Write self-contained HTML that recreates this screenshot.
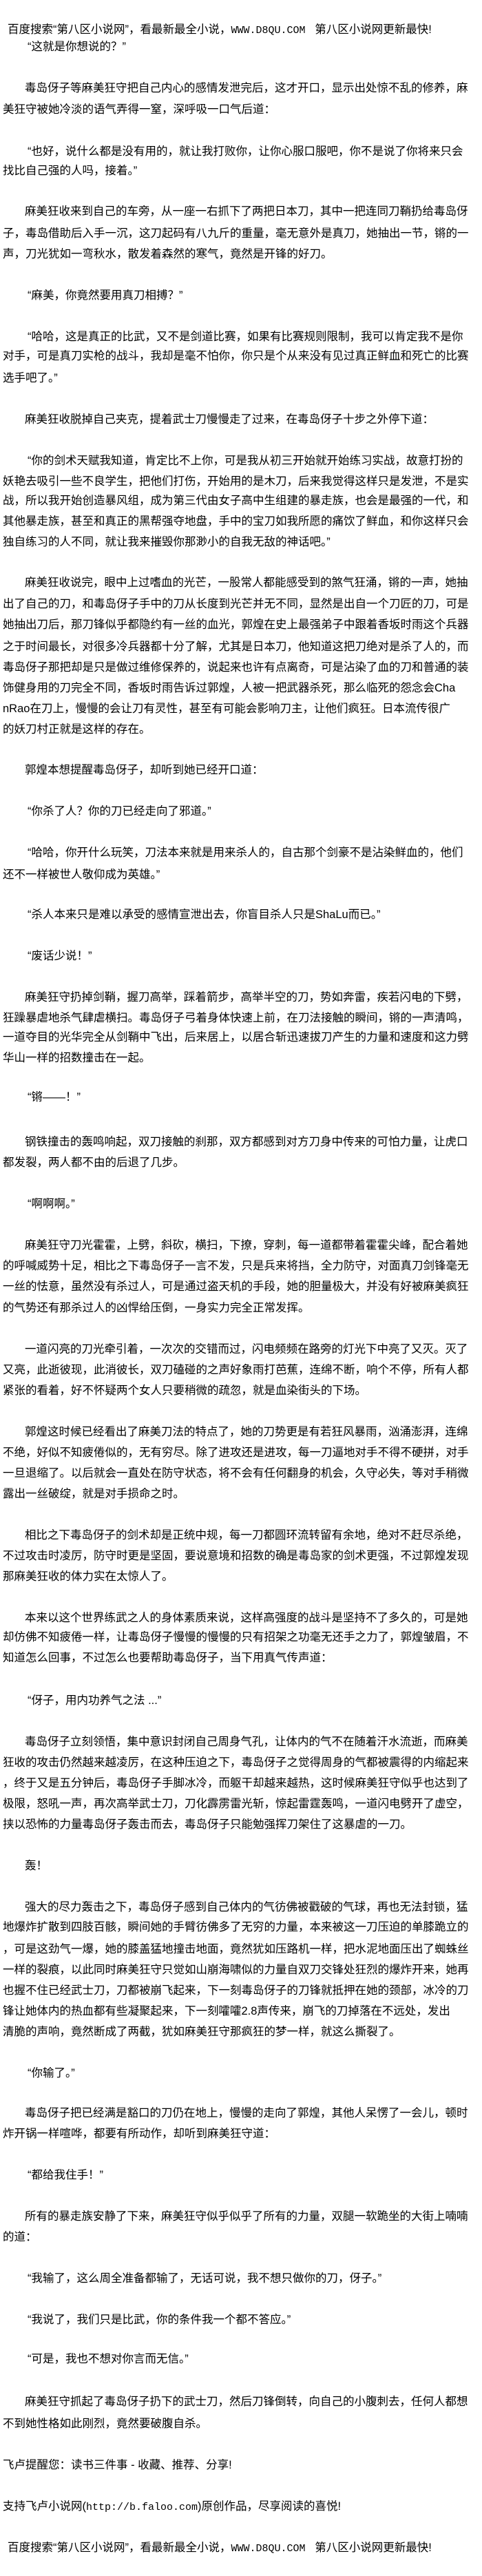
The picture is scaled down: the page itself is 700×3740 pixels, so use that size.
<!DOCTYPE html>
<html><head><meta charset="utf-8">
<style>
html,body{margin:0;padding:0;background:#fff;}
body{width:700px;height:3740px;position:relative;overflow:hidden;font-family:"Liberation Sans","Noto Sans CJK SC","WenQuanYi Zen Hei",sans-serif;color:#000;}
.l{position:absolute;left:4px;height:30px;line-height:30px;font-size:16.5px;white-space:nowrap;}
.i{left:36px;}
.q{left:40px;}
.h{left:11px;}
.m{font-family:"Liberation Mono",monospace;font-size:15px;}
</style></head><body>
<div class="l h" style="top:28px">百度搜索“第八区小说网”，看最新最全小说，<span class="m">WWW.D8QU.COM</span>&nbsp;&nbsp; 第八区小说网更新最快!</div>
<div class="l q" style="top:53px">“这就是你想说的？”</div>

<div class="l i" style="top:113px">毒岛伢子等麻美狂守把自己内心的感情发泄完后，这才开口，显示出处惊不乱的修养，麻</div>
<div class="l" style="top:144px">美狂守被她冷淡的语气弄得一窒，深呼吸一口气后道：</div>

<div class="l q" style="top:205px">“也好，说什么都是没有用的，就让我打败你，让你心服口服吧，你不是说了你将来只会</div>
<div class="l" style="top:233px">找比自己强的人吗，接着。”</div>

<div class="l i" style="top:292px">麻美狂收来到自己的车旁，从一座一右抓下了两把日本刀，其中一把连同刀鞘扔给毒岛伢</div>
<div class="l" style="top:324px">子，毒岛借助后入手一沉，这刀起码有八九斤的重量，毫无意外是真刀，她抽出一节，锵的一</div>
<div class="l" style="top:354px">声，刀光犹如一弯秋水，散发着森然的寒气，竟然是开锋的好刀。</div>

<div class="l q" style="top:414px">“麻美，你竟然要用真刀相搏？”</div>

<div class="l q" style="top:474px">“哈哈，这是真正的比武，又不是剑道比赛，如果有比赛规则限制，我可以肯定我不是你</div>
<div class="l" style="top:502px">对手，可是真刀实枪的战斗，我却是毫不怕你，你只是个从来没有见过真正鲜血和死亡的比赛</div>
<div class="l" style="top:534px">选手吧了。”</div>

<div class="l i" style="top:594px">麻美狂收脱掉自己夹克，提着武士刀慢慢走了过来，在毒岛伢子十步之外停下道：</div>

<div class="l q" style="top:654px">“你的剑术天赋我知道，肯定比不上你，可是我从初三开始就开始练习实战，故意打扮的</div>
<div class="l" style="top:684px">妖艳去吸引一些不良学生，把他们打伤，开始用的是木刀，后来我觉得这样只是发泄，不是实</div>
<div class="l" style="top:712px">战，所以我开始创造暴风组，成为第三代由女子高中生组建的暴走族，也会是最强的一代，和</div>
<div class="l" style="top:742px">其他暴走族，甚至和真正的黑帮强夺地盘，手中的宝刀如我所愿的痛饮了鲜血，和你这样只会</div>
<div class="l" style="top:772px">独自练习的人不同，就让我来摧毁你那渺小的自我无敌的神话吧。”</div>

<div class="l i" style="top:831px">麻美狂收说完，眼中上过嗜血的光芒，一股常人都能感受到的煞气狂涌，锵的一声，她抽</div>
<div class="l" style="top:862px">出了自己的刀，和毒岛伢子手中的刀从长度到光芒并无不同，显然是出自一个刀匠的刀，可是</div>
<div class="l" style="top:892px">她抽出刀后，那刀锋似乎都隐约有一丝的血光，郭煌在史上最强弟子中跟着香坂时雨这个兵器</div>
<div class="l" style="top:924px">之于时间最长，对很多冷兵器都十分了解，尤其是日本刀，他知道这把刀绝对是杀了人的，而</div>
<div class="l" style="top:954px">毒岛伢子那把却是只是做过维修保养的，说起来也许有点离奇，可是沾染了血的刀和普通的装</div>
<div class="l" style="top:984px">饰健身用的刀完全不同，香坂时雨告诉过郭煌，人被一把武器杀死，那么临死的怨念会Cha</div>
<div class="l" style="top:1014px">nRao在刀上，慢慢的会让刀有灵性，甚至有可能会影响刀主，让他们疯狂。日本流传很广</div>
<div class="l" style="top:1044px">的妖刀村正就是这样的存在。</div>

<div class="l i" style="top:1103px">郭煌本想提醒毒岛伢子，却听到她已经开口道：</div>

<div class="l q" style="top:1163px">“你杀了人？你的刀已经走向了邪道。”</div>

<div class="l q" style="top:1223px">“哈哈，你开什么玩笑，刀法本来就是用来杀人的，自古那个剑豪不是沾染鲜血的，他们</div>
<div class="l" style="top:1255px">还不一样被世人敬仰成为英雄。”</div>

<div class="l q" style="top:1313px">“杀人本来只是难以承受的感情宣泄出去，你盲目杀人只是ShaLu而已。”</div>

<div class="l q" style="top:1373px">“废话少说！”</div>

<div class="l i" style="top:1433px">麻美狂守扔掉剑鞘，握刀高举，踩着箭步，高举半空的刀，势如奔雷，疾若闪电的下劈，</div>
<div class="l" style="top:1463px">狂躁暴虐地杀气肆虐横扫。毒岛伢子弓着身体快速上前，在刀法接触的瞬间，锵的一声清鸣，</div>
<div class="l" style="top:1491px">一道夺目的光华完全从剑鞘中飞出，后来居上，以居合斩迅速拔刀产生的力量和速度和这力劈</div>
<div class="l" style="top:1521px">华山一样的招数撞击在一起。</div>

<div class="l q" style="top:1578px">“锵——！”</div>

<div class="l i" style="top:1643px">钢铁撞击的轰鸣响起，双刀接触的刹那，双方都感到对方刀身中传来的可怕力量，让虎口</div>
<div class="l" style="top:1673px">都发裂，两人都不由的后退了几步。</div>

<div class="l q" style="top:1733px">“啊啊啊。”</div>

<div class="l i" style="top:1793px">麻美狂守刀光霍霍，上劈，斜砍，横扫，下撩，穿刺，每一道都带着霍霍尖峰，配合着她</div>
<div class="l" style="top:1823px">的呼喊威势十足，相比之下毒岛伢子一言不发，只是兵来将挡，全力防守，对面真刀剑锋毫无</div>
<div class="l" style="top:1853px">一丝的怯意，虽然没有杀过人，可是通过盗天机的手段，她的胆量极大，并没有好被麻美疯狂</div>
<div class="l" style="top:1884px">的气势还有那杀过人的凶悍给压倒，一身实力完全正常发挥。</div>

<div class="l i" style="top:1944px">一道闪亮的刀光牵引着，一次次的交错而过，闪电频频在路旁的灯光下中亮了又灭。灭了</div>
<div class="l" style="top:1974px">又亮，此逝彼现，此消彼长，双刀磕碰的之声好象雨打芭蕉，连绵不断，响个不停，所有人都</div>
<div class="l" style="top:2004px">紧张的看着，好不怀疑两个女人只要稍微的疏忽，就是血染街头的下场。</div>

<div class="l i" style="top:2064px">郭煌这时候已经看出了麻美刀法的特点了，她的刀势更是有若狂风暴雨，汹涌澎湃，连绵</div>
<div class="l" style="top:2094px">不绝，好似不知疲倦似的，无有穷尽。除了进攻还是进攻，每一刀逼地对手不得不硬拼，对手</div>
<div class="l" style="top:2124px">一旦退缩了。以后就会一直处在防守状态，将不会有任何翻身的机会，久守必失，等对手稍微</div>
<div class="l" style="top:2154px">露出一丝破绽，就是对手损命之时。</div>

<div class="l i" style="top:2214px">相比之下毒岛伢子的剑术却是正统中规，每一刀都圆环流转留有余地，绝对不赶尽杀绝，</div>
<div class="l" style="top:2244px">不过攻击时凌厉，防守时更是坚固，要说意境和招数的确是毒岛家的剑术更强，不过郭煌发现</div>
<div class="l" style="top:2274px">那麻美狂收的体力实在太惊人了。</div>

<div class="l i" style="top:2334px">本来以这个世界练武之人的身体素质来说，这样高强度的战斗是坚持不了多久的，可是她</div>
<div class="l" style="top:2362px">却仿佛不知疲倦一样，让毒岛伢子慢慢的慢慢的只有招架之功毫无还手之力了，郭煌皱眉，不</div>
<div class="l" style="top:2392px">知道怎么回事，不过怎么也要帮助毒岛伢子，当下用真气传声道：</div>

<div class="l q" style="top:2454px">“伢子，用内功养气之法 ...”</div>

<div class="l i" style="top:2514px">毒岛伢子立刻领悟，集中意识封闭自己周身气孔，让体内的气不在随着汗水流逝，而麻美</div>
<div class="l" style="top:2544px">狂收的攻击仍然越来越凌厉，在这种压迫之下，毒岛伢子之觉得周身的气都被震得的内缩起来</div>
<div class="l" style="top:2574px">，终于又是五分钟后，毒岛伢子手脚冰冷，而躯干却越来越热，这时候麻美狂守似乎也达到了</div>
<div class="l" style="top:2604px">极限，怒吼一声，再次高举武士刀，刀化霹雳雷光斩，惊起雷霆轰鸣，一道闪电劈开了虚空，</div>
<div class="l" style="top:2634px">挟以恐怖的力量毒岛伢子轰击而去，毒岛伢子只能勉强挥刀架住了这暴虐的一刀。</div>

<div class="l i" style="top:2694px">轰！</div>

<div class="l i" style="top:2754px">强大的尽力轰击之下，毒岛伢子感到自己体内的气彷佛被戳破的气球，再也无法封锁，猛</div>
<div class="l" style="top:2783px">地爆炸扩散到四肢百骸，瞬间她的手臂彷佛多了无穷的力量，本来被这一刀压迫的单膝跪立的</div>
<div class="l" style="top:2815px">，可是这劲气一爆，她的膝盖猛地撞击地面，竟然犹如压路机一样，把水泥地面压出了蜘蛛丝</div>
<div class="l" style="top:2845px">一样的裂痕，以此同时麻美狂守只觉如山崩海啸似的力量自双刀交锋处狂烈的爆炸开来，她再</div>
<div class="l" style="top:2875px">也握不住已经武士刀，刀都被崩飞起来，下一刻毒岛伢子的刀锋就抵押在她的颈部，冰冷的刀</div>
<div class="l" style="top:2905px">锋让她体内的热血都有些凝聚起来，下一刻嚯嚯2.8声传来，崩飞的刀掉落在不远处，发出</div>
<div class="l" style="top:2935px">清脆的声响，竟然断成了两截，犹如麻美狂守那疯狂的梦一样，就这么撕裂了。</div>

<div class="l q" style="top:2995px">“你输了。”</div>

<div class="l i" style="top:3053px">毒岛伢子把已经满是豁口的刀仍在地上，慢慢的走向了郭煌，其他人呆愣了一会儿，顿时</div>
<div class="l" style="top:3083px">炸开锅一样喧哗，都要有所动作，却听到麻美狂守道：</div>

<div class="l q" style="top:3143px">“都给我住手！”</div>

<div class="l i" style="top:3203px">所有的暴走族安静了下来，麻美狂守似乎似乎了所有的力量，双腿一软跪坐的大街上喃喃</div>
<div class="l" style="top:3233px">的道：</div>

<div class="l q" style="top:3293px">“我输了，这么周全准备都输了，无话可说，我不想只做你的刀，伢子。”</div>

<div class="l q" style="top:3353px">“我说了，我们只是比武，你的条件我一个都不答应。”</div>

<div class="l q" style="top:3410px">“可是，我也不想对你言而无信。”</div>

<div class="l i" style="top:3472px">麻美狂守抓起了毒岛伢子扔下的武士刀，然后刀锋倒转，向自己的小腹刺去，任何人都想</div>
<div class="l" style="top:3504px">不到她性格如此刚烈，竟然要破腹自杀。</div>

<div class="l" style="top:3564px">飞卢提醒您：读书三件事 - 收藏、推荐、分享!</div>

<div class="l" style="top:3624px">支持飞卢小说网(<span class="m">http://b.faloo.com</span>)原创作品，尽享阅读的喜悦!</div>

<div class="l h" style="top:3684px">百度搜索“第八区小说网”，看最新最全小说，<span class="m">WWW.D8QU.COM</span>&nbsp;&nbsp; 第八区小说网更新最快!</div>
</body></html>
